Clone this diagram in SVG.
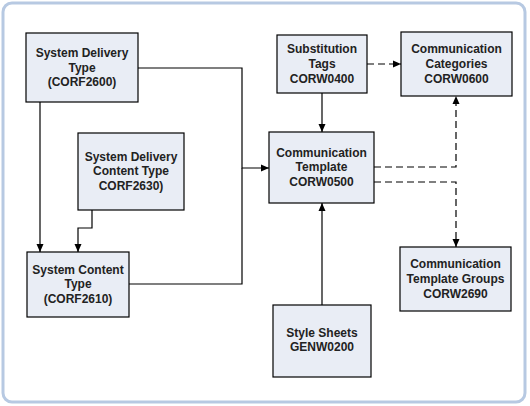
<svg xmlns="http://www.w3.org/2000/svg" width="530" height="406" viewBox="0 0 530 406">
<style>
.frame{fill:#ffffff;stroke:#b7c9e2;stroke-width:3}
.node rect{fill:#e9edf5;stroke:#000;stroke-width:1.2}
.node text{font-family:"Liberation Sans",Arial,sans-serif;font-weight:bold;font-size:12px;fill:#222;text-anchor:middle}
.c{fill:none;stroke:#000;stroke-width:1.2}
.d{stroke-dasharray:7 4}
</style>
<defs>
<marker id="ah" viewBox="0 0 8 8" refX="8" refY="4" markerWidth="8" markerHeight="8" markerUnits="userSpaceOnUse" orient="auto">
<path d="M0,0.5 L8,4 L0,7.5 Z" fill="#000"/>
</marker>
</defs>
<rect class="frame" x="3" y="3" width="522" height="399" rx="9"/>
<g id="connectors">
<polyline class="c" points="138,68 242,68 242,168 269,168" marker-end="url(#ah)"/>
<polyline class="c" points="129,284 242,284 242,168"/>
<polyline class="c" points="40,102 40,252" marker-end="url(#ah)"/>
<polyline class="c" points="92,210 92,228 78,228 78,252" marker-end="url(#ah)"/>
<polyline class="c" points="322,93 322,132" marker-end="url(#ah)"/>
<polyline class="c d" points="367,64 401,64" marker-end="url(#ah)"/>
<polyline class="c d" points="374,167 456,167 456,96" marker-end="url(#ah)"/>
<polyline class="c d" points="374,182 456,182 456,247" marker-end="url(#ah)"/>
<polyline class="c" points="322,305 322,203" marker-end="url(#ah)"/>
</g>
<g id="sdt" class="node"><rect x="26" y="33" width="112" height="69"/>
<text x="82" y="57">System Delivery</text><text x="82" y="72">Type</text><text x="82" y="86">(CORF2600)</text></g>
<g id="sdct" class="node"><rect x="78" y="133" width="106" height="77"/>
<text x="131" y="161">System Delivery</text><text x="131" y="175">Content Type</text><text x="131" y="190">CORF2630)</text></g>
<g id="sct" class="node"><rect x="27" y="252" width="102" height="65"/>
<text x="78" y="274">System Content</text><text x="78" y="288">Type</text><text x="78" y="303">(CORF2610)</text></g>
<g id="subtags" class="node"><rect x="277" y="35" width="90" height="58"/>
<text x="322" y="53">Substitution</text><text x="322" y="68">Tags</text><text x="322" y="83">CORW0400</text></g>
<g id="commcat" class="node"><rect x="401" y="32" width="111" height="64"/>
<text x="456.5" y="53">Communication</text><text x="456.5" y="68">Categories</text><text x="456.5" y="83">CORW0600</text></g>
<g id="commtpl" class="node"><rect x="269" y="132" width="105" height="71"/>
<text x="321.5" y="157">Communication</text><text x="321.5" y="171">Template</text><text x="321.5" y="186">CORW0500</text></g>
<g id="commgrp" class="node"><rect x="400" y="247" width="111" height="64"/>
<text x="455.5" y="268">Communication</text><text x="455.5" y="283">Template Groups</text><text x="455.5" y="298">CORW2690</text></g>
<g id="styles" class="node"><rect x="273" y="305" width="98" height="72"/>
<text x="322" y="337">Style Sheets</text><text x="322" y="351">GENW0200</text></g>
</svg>
